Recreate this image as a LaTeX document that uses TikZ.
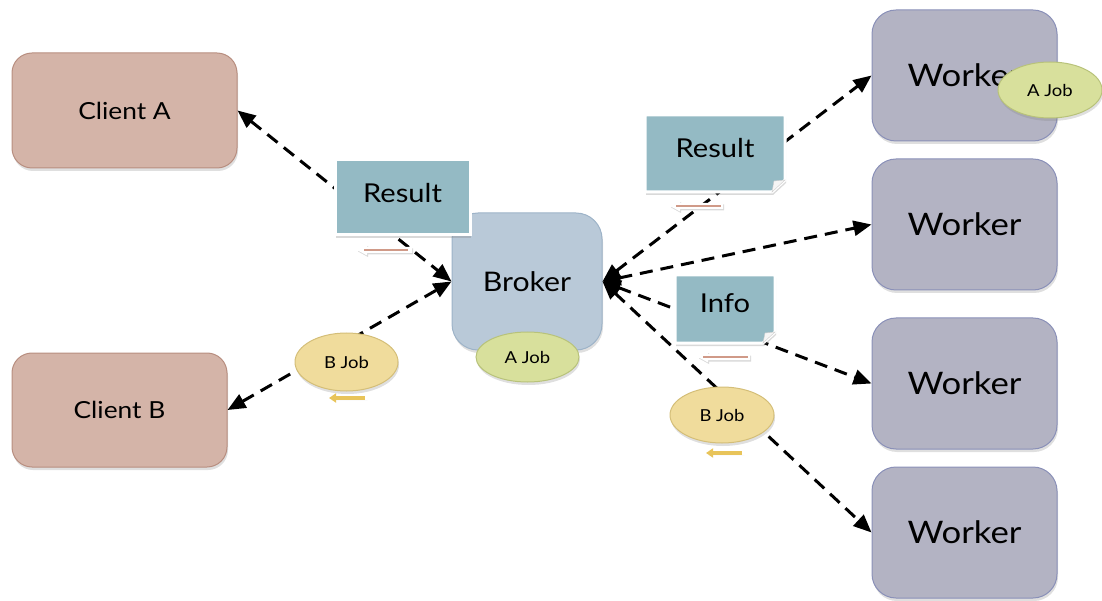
\documentclass[tikz,border=0pt]{standalone}
\usepackage{fontspec}
\setmainfont{Lato}[FakeStretch=1.12]
\usetikzlibrary{arrows.meta,shadows,shapes.geometric}

\definecolor{clientfill}{HTML}{D4B4A8}
\definecolor{clientline}{HTML}{B88E80}
\definecolor{brokerfill}{HTML}{B9C9D8}
\definecolor{brokerline}{HTML}{9DB3C8}
\definecolor{workerfill}{HTML}{B3B3C3}
\definecolor{workerline}{HTML}{8A90B8}
\definecolor{notefill}{HTML}{94BAC4}
\definecolor{ajobfill}{HTML}{D8E09C}
\definecolor{ajobline}{HTML}{B8C27A}
\definecolor{bjobfill}{HTML}{F0DC9C}
\definecolor{bjobline}{HTML}{D4BE78}
\definecolor{salmon}{HTML}{D09A88}
\definecolor{gold}{HTML}{E8C45A}

\tikzset{
  softshadow/.style={drop shadow={opacity=0.25, shadow xshift=1pt, shadow yshift=-3pt}},
  box/.style={rectangle, line width=1pt, softshadow, inner sep=0pt},
  client/.style={box, fill=clientfill, draw=clientline, rounded corners=20pt, font=\fontsize{23.5}{26}\selectfont},
  broker/.style={box, fill=brokerfill, draw=brokerline, rounded corners=26pt, font=\fontsize{27}{30}\selectfont},
  worker/.style={box, fill=workerfill, draw=workerline, rounded corners=24pt,
    minimum width=185pt, minimum height=131pt, font=\fontsize{31}{34}\selectfont},
  job/.style={ellipse, line width=1pt, inner sep=0pt, softshadow, font=\fontsize{16.5}{18}\selectfont},
  ajob/.style={job, fill=ajobfill, draw=ajobline},
  bjob/.style={job, fill=bjobfill, draw=bjobline},
  notebody/.style={fill=notefill, draw=white, line width=3pt,
    drop shadow={opacity=0.3, shadow xshift=1pt, shadow yshift=-3pt}},
  notetext/.style={font=\fontsize{26}{29}\selectfont, inner sep=0pt},
  link/.style={line width=3pt, dash pattern=on 13pt off 8pt,
    {Triangle[length=18pt,width=15pt]}-{Triangle[length=18pt,width=15pt]}},
  fold/.style={fill=white!92!gray, draw=gray!40, line width=0.4pt},
  smallarrow/.style={fill=white, drop shadow={opacity=0.3, shadow xshift=1pt, shadow yshift=-1.5pt}},
}

\begin{document}
\begin{tikzpicture}[x=1pt,y=-1pt]
\useasboundingbox (0,0) rectangle (1102,601);

% clients, broker and workers
\node[client, minimum width=225pt, minimum height=115pt] (ca) at (124.5,110.5) {Client A};
\node[client, minimum width=215pt, minimum height=114pt] (cb) at (119.5,410) {Client B};
\node[broker, minimum width=150pt, minimum height=137pt] (broker) at (527,281.5) {Broker};
\node[worker] (w1) at (964.5,75.5) {Worker};
\node[worker] (w2) at (964.5,224.5) {Worker};
\node[worker] (w3) at (964.5,383.5) {Worker};
\node[worker] (w4) at (964.5,532.5) {Worker};

% dashed message paths
\draw[link] (ca.east) -- (broker.west);
\draw[link] (cb.east) -- (broker.west);
\draw[link] (broker.east) -- (w1.west);
\draw[link] (broker.east) -- (w2.west);
\draw[link] (broker.east) -- (w3.west);
\draw[link] (broker.east) -- (w4.west);

% result message travelling to client A
\path[notebody] (335,160) rectangle (470,235);
\node[notetext] (res1) at (402.5,193) {Result};
\path[smallarrow] (357,250) -- (367,244.5) -- (367,247) -- (412,247) -- (412,253) -- (367,253) -- (367,255.5) -- cycle;
\draw[salmon, line width=2pt] (364,250) -- (408,250);

% result message travelling from a worker
\path[notebody] (645,115) -- (785,115) -- (785,180) -- (772,192) -- (645,192) -- cycle;
\path[fold] (785,180) -- (774,181) -- (772,192) -- cycle;
\node[notetext] (res2) at (715,148) {Result};
\path[smallarrow] (670,206) -- (680,200.5) -- (680,203) -- (723,203) -- (723,209) -- (680,209) -- (680,211.5) -- cycle;
\draw[salmon, line width=2pt] (676,206) -- (721,206);

% info message
\path[notebody] (675,275) -- (775,275) -- (775,332) -- (763,343) -- (675,343) -- cycle;
\path[fold] (775,332) -- (765,333) -- (763,343) -- cycle;
\node[notetext] (info) at (725,303) {Info};
\path[smallarrow] (698,357) -- (708,351.5) -- (708,354) -- (750,354) -- (750,360) -- (708,360) -- (708,362.5) -- cycle;
\draw[salmon, line width=2pt] (703,357) -- (748,357);

% jobs
\node[ajob, minimum width=103pt, minimum height=50pt] (ajob1) at (527.5,357) {A Job};
\node[ajob, minimum width=104pt, minimum height=56pt] (ajob2) at (1050,90) {A Job};
\node[bjob, minimum width=103pt, minimum height=58pt] (bjob1) at (346.5,362) {B Job};
\node[bjob, minimum width=104pt, minimum height=56pt] (bjob2) at (722,415) {B Job};

% small job arrows
\coordinate (g1a) at (365,398);
\coordinate (g1b) at (329,398);
\coordinate (g2a) at (742,453);
\coordinate (g2b) at (706,453);
\draw[gold, line width=4pt, -{Triangle[length=7pt,width=9pt]}, drop shadow={opacity=0.25, shadow yshift=-2pt}] (g1a) -- (g1b);
\draw[gold, line width=4pt, -{Triangle[length=7pt,width=9pt]}, drop shadow={opacity=0.25, shadow yshift=-2pt}] (g2a) -- (g2b);
\end{tikzpicture}
\end{document}
